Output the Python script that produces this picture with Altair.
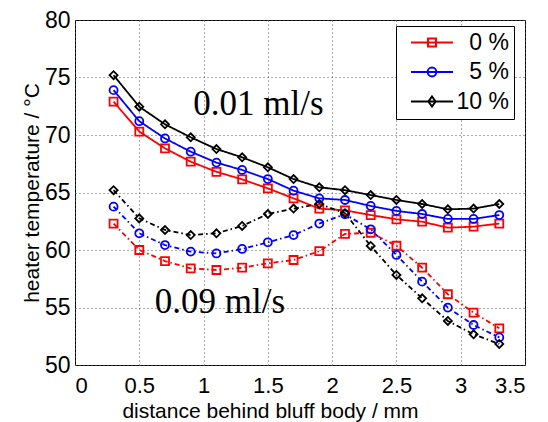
import altair as alt
import pandas as pd

distance = [0.3, 0.5, 0.7, 0.9, 1.1, 1.3, 1.5, 1.7, 1.9, 2.1, 2.3, 2.5, 2.7, 2.9, 3.1, 3.3]
series_names = ["0 %", "5 %", "10 %"]
series_colors = ["#ff0000", "#0000ff", "#000000"]
series_shapes = ["square", "circle", "diamond"]
rates = ["0.01 ml/s", "0.09 ml/s"]

# 0.01 ml/s (solid)
slow_0 = [72.9, 70.3, 68.84, 67.68, 66.8, 66.14, 65.36, 64.49, 63.6, 63.45, 63.04, 62.67, 62.46, 61.94, 62.03, 62.3]
slow_5 = [73.9, 71.2, 69.7, 68.55, 67.6, 66.96, 66.17, 65.16, 64.49, 64.35, 63.83, 63.4, 63.13, 62.7, 62.7, 63.04]
slow_10 = [75.2, 72.46, 70.93, 69.8, 68.78, 68.06, 67.19, 66.17, 65.45, 65.2, 64.78, 64.35, 64.0, 63.54, 63.6, 64.0]
# 0.09 ml/s (dash-dot)
fast_0 = [62.3, 60.0, 59.04, 58.4, 58.26, 58.46, 58.84, 59.13, 59.9, 61.4, 61.5, 60.37, 58.46, 56.15, 54.55, 53.19]
fast_5 = [63.77, 61.45, 60.43, 59.86, 59.7, 60.09, 60.67, 61.3, 62.3, 63.1, 61.8, 59.57, 57.25, 54.99, 53.48, 52.4]
fast_10 = [65.2, 62.75, 61.74, 61.3, 61.45, 62.09, 63.13, 63.6, 64.0, 63.2, 60.35, 57.83, 55.8, 53.83, 52.67, 51.83]

x_ticks = [0, 0.5, 1, 1.5, 2, 2.5, 3, 3.5]
y_ticks = [50, 55, 60, 65, 70, 75, 80]

annot_x = [0.92, 0.62]
annot_y = [71.7, 54.5]
annot_text = ["0.01 ml/s", "0.09 ml/s"]

legend_paths = [
    "M-1,0H1M-0.19,-0.19H0.19V0.19H-0.19Z",
    "M-1,0H1M-0.21,0A0.21,0.21,0,1,1,0.21,0A0.21,0.21,0,1,1,-0.21,0Z",
    "M-1,0H1M0,-0.24L0.17,0L0,0.24L-0.17,0Z",
]

rows = []
for rate, group in zip(rates, [[slow_0, slow_5, slow_10], [fast_0, fast_5, fast_10]]):
    for name, vals in zip(series_names, group):
        for xv, yv in zip(distance, vals):
            rows.append({"x": xv, "y": yv, "series": name, "rate": rate, "grp": name + " " + rate})
df = pd.DataFrame(rows)

ann = pd.DataFrame({"x": annot_x, "y": annot_y, "label": annot_text})

x_enc = alt.X(
    "x:Q",
    scale=alt.Scale(domain=[0, 3.5], nice=False, zero=False),
    axis=alt.Axis(values=x_ticks, format="~g", title="distance behind bluff body / mm",
                  labelPadding=10, labelFontSize=22, titleX=195, titleY=52,
                  titleBaseline="alphabetic", titleAlign="center"),
)
y_enc = alt.Y(
    "y:Q",
    scale=alt.Scale(domain=[50, 80], nice=False, zero=False),
    axis=alt.Axis(values=y_ticks, title="heater temperature / °C", labelPadding=5,
                  labelFontSize=23, titlePadding=2),
)
color_scale = alt.Scale(domain=series_names, range=series_colors)

leg = alt.Legend(
    orient="none", legendX=321, legendY=6, title=None,
    symbolSize=1764, symbolStrokeWidth=2, symbolOpacity=1, symbolFillColor="transparent",
    clipHeight=23,
    labelFontSize=23, labelFont="Liberation Sans",
    labelColor="black", labelAlign="right", labelOffset=55, padding=5, symbolOffset=9,
    rowPadding=5.5, fillColor="white", strokeColor="black",
)
color_enc = alt.Color("series:N", scale=color_scale, legend=leg)

lines = alt.Chart(df).mark_line(strokeWidth=1.8).encode(
    x=x_enc,
    y=y_enc,
    color=color_enc,
    strokeDash=alt.StrokeDash("rate:N", scale=alt.Scale(domain=rates, range=[[1, 0], [5, 3, 1.5, 3]]), legend=None),
    detail="grp:N",
)

marker_layers = []
for name, shp in zip(series_names, series_shapes):
    marker_layers.append(
        alt.Chart(df).transform_filter(alt.datum.series == name).mark_point(
            shape=shp, filled=False, size=64, strokeWidth=1.8, opacity=1
        ).encode(x=x_enc, y=y_enc, color=color_enc)
    )

legend_layer = alt.Chart(df).transform_filter("false").mark_point(filled=False, strokeWidth=2, opacity=1).encode(
    x=x_enc, y=y_enc,
    color=color_enc,
    shape=alt.Shape("series:N", scale=alt.Scale(domain=series_names, range=legend_paths), legend=leg),
)

texts = alt.Chart(ann).mark_text(
    align="left", baseline="alphabetic", font="Liberation Serif", fontSize=35, color="black"
).encode(x=x_enc, y=y_enc, text="label:N")

chart = alt.layer(lines, *marker_layers, texts, legend_layer).properties(
    width=450, height=345,
    autosize=alt.AutoSizeParams(type="none"),
    padding={"left": 67, "top": 12, "right": 15, "bottom": 57},
).configure_view(
    stroke="#000000", strokeWidth=1
).configure_axis(
    grid=True, gridColor="#555555", gridDash=[1, 3], gridWidth=1,
    domain=False, ticks=False,
    labelFont="Liberation Sans", labelColor="black",
    titleFont="Liberation Sans", titleFontSize=21, titleColor="black", titleFontWeight="normal",
)

chart.save("out.html", embed_options={"renderer": "svg", "actions": False})
